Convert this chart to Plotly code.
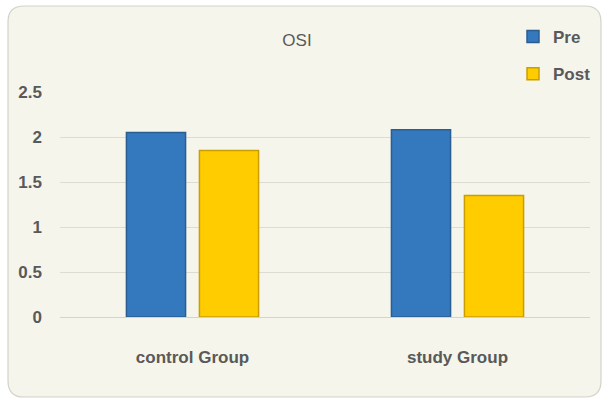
import plotly.graph_objects as go

categories = ["control Group", "study Group"]
pre_values = [2.05, 2.08]
post_values = [1.85, 1.35]
y_ticks = [0, 0.5, 1, 1.5, 2, 2.5]
y_tick_labels = ["0", "0.5", "1", "1.5", "2", "2.5"]

FONT = "Liberation Sans Narrow, Arial Narrow, Liberation Sans, Arial, sans-serif"
TXT = "#595959"

W, H = 606, 400
pl, pr, pt, pb = 60, 16, 92, 83
pw, ph = W - pl - pr, H - pt - pb

fig = go.Figure()
fig.add_trace(go.Bar(
    x=categories, y=pre_values, name="Pre", legendgroup="a",
    marker=dict(color="#3479BD", line=dict(color="#2A5E92", width=1.5)),
))
fig.add_trace(go.Bar(
    x=categories, y=post_values, name="Post", legendgroup="b",
    marker=dict(color="#FFCC00", line=dict(color="#C99E00", width=1.5)),
))

fig.update_layout(
    width=W, height=H,
    margin=dict(l=pl, r=pr, t=pt, b=pb, autoexpand=False),
    paper_bgcolor="white",
    plot_bgcolor="rgba(0,0,0,0)",
    barmode="group", bargap=0.449, bargroupgap=0.19,
    showlegend=True,
    legend=dict(
        x=(513 - pl) / pw, y=(H - pb - 19) / ph, xanchor="left", yanchor="top",
        font=dict(family=FONT, size=17, color=TXT, weight="bold"),
        bgcolor="rgba(0,0,0,0)", tracegroupgap=12,
        itemwidth=30,
    ),
    title=dict(
        text="OSI", x=297 / W, xanchor="center", y=1 - 40 / H, yanchor="middle",
        font=dict(family=FONT, size=17, color=TXT),
    ),
    xaxis=dict(
        showgrid=False, showline=False, zeroline=False, ticks="",
        tickfont=dict(family=FONT, size=17, color=TXT, weight="bold"),
        ticklabelstandoff=28,
    ),
    yaxis=dict(
        range=[0, 2.5], tickvals=y_ticks, ticktext=y_tick_labels,
        showgrid=True, gridcolor="#DCDCD4", gridwidth=1,
        zeroline=True, zerolinecolor="#D4D4CC", zerolinewidth=1,
        showline=False, ticks="",
        tickfont=dict(family=FONT, size=17, color=TXT, weight="bold"),
        ticklabelstandoff=17,
    ),
)

def px(xp):
    return (xp - pl) / pw
def py(yp):
    return (H - pb - yp) / ph
L, R, T, B, rad = 8, 601, 6, 397, 16
path = (
    f"M {px(L + rad)} {py(T)} L {px(R - rad)} {py(T)} "
    f"Q {px(R)} {py(T)} {px(R)} {py(T + rad)} "
    f"L {px(R)} {py(B - rad)} Q {px(R)} {py(B)} {px(R - rad)} {py(B)} "
    f"L {px(L + rad)} {py(B)} Q {px(L)} {py(B)} {px(L)} {py(B - rad)} "
    f"L {px(L)} {py(T + rad)} Q {px(L)} {py(T)} {px(L + rad)} {py(T)} Z"
)
fig.add_shape(
    type="path", xref="paper", yref="paper", layer="below", path=path,
    fillcolor="#F5F5EB", line=dict(color="#D2D2CC", width=1.2),
)

fig.write_html("out.html")
